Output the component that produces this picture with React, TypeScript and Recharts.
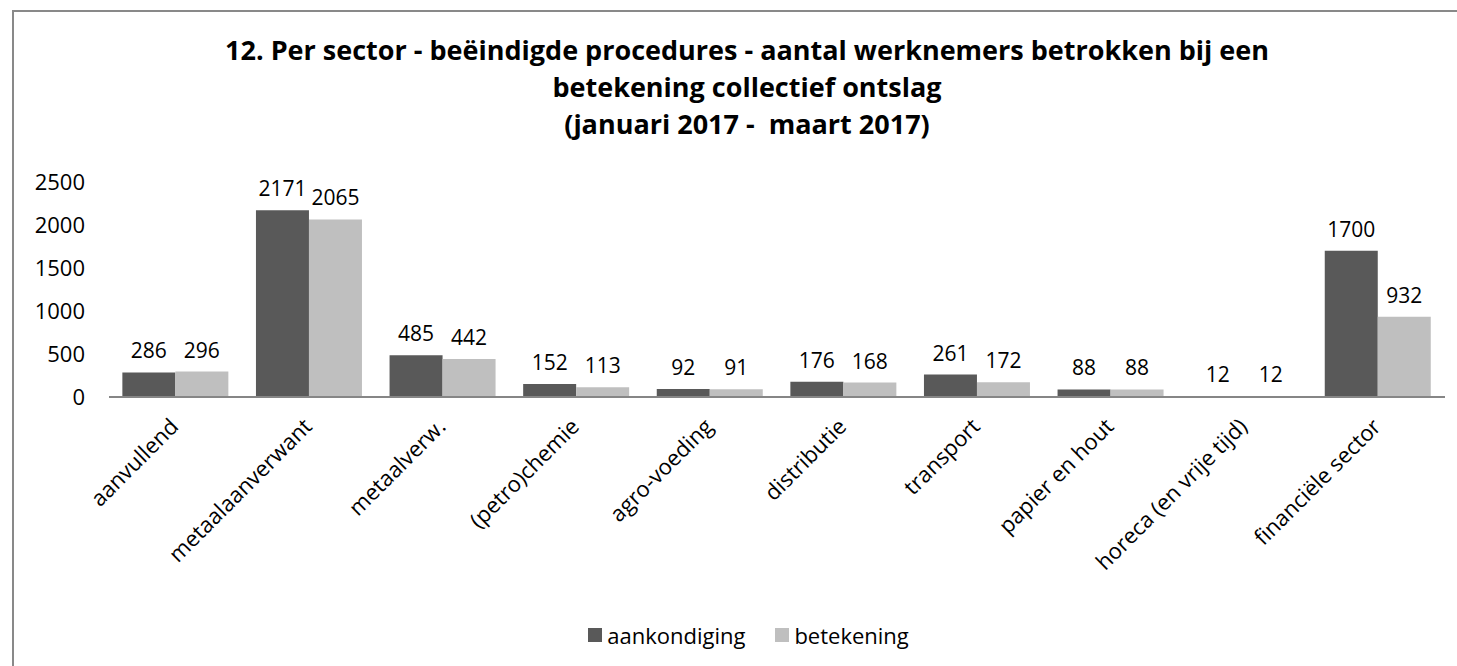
import { BarChart, Bar, XAxis, YAxis, Legend, LabelList } from 'recharts';

const sectors = [
  'aanvullend',
  'metaalaanverwant',
  'metaalverw.',
  '(petro)chemie',
  'agro-voeding',
  'distributie',
  'transport',
  'papier en hout',
  'horeca (en vrije tijd)',
  'financiële sector',
];
const aankondiging = [286, 2171, 485, 152, 92, 176, 261, 88, 12, 1700];
const betekening = [296, 2065, 442, 113, 91, 168, 172, 88, 12, 932];
const yTicks = [0, 500, 1000, 1500, 2000, 2500];

const titleLines = [
  '12. Per sector - beëindigde procedures - aantal werknemers betrokken bij een',
  'betekening collectief ontslag',
  '(januari 2017 -  maart 2017)',
];

const series = [
  { key: 'aankondiging', name: 'aankondiging', color: '#595959' },
  { key: 'betekening', name: 'betekening', color: '#bfbfbf' },
];

const data = sectors.map((name, i) => ({
  name,
  aankondiging: aankondiging[i],
  betekening: betekening[i],
}));

const FONT = '"Open Sans", sans-serif';

function SectorTick({ x, y, payload }: any) {
  const tx = x + 4;
  const ty = y + 23;
  return (
    <text
      x={tx}
      y={ty}
      textAnchor="end"
      fontSize={22}
      fill="#000"
      transform={`rotate(-45, ${tx}, ${ty})`}
    >
      {payload.value}
    </text>
  );
}

function LegendContent() {
  return (
    <div style={{ display: 'flex', justifyContent: 'center', gap: 30, fontSize: 22, lineHeight: '30px', color: '#000' }}>
      {series.map((s) => (
        <span key={s.key} style={{ display: 'flex', alignItems: 'center' }}>
          <span style={{ width: 14, height: 14, background: s.color, marginRight: 5, display: 'inline-block' }} />
          {s.name}
        </span>
      ))}
    </div>
  );
}

export default function App() {
  return (
    <div
      style={{
        position: 'absolute',
        left: 0,
        top: 0,
        width: 1457,
        height: 666,
        overflow: 'hidden',
        background: '#fff',
        fontFamily: FONT,
      }}
    >
      <div
        style={{
          position: 'absolute',
          left: 12,
          top: 10,
          width: 1445,
          height: 656,
          boxSizing: 'border-box',
          borderLeft: '2px solid #898989',
          borderTop: '2px solid #898989',
        }}
      />
      <div
        style={{
          position: 'absolute',
          left: 147,
          top: 31,
          width: 1200,
          textAlign: 'center',
          fontSize: 27,
          fontWeight: 700,
          lineHeight: '37px',
          color: '#000',
          whiteSpace: 'pre',
        }}
      >
        {titleLines.map((l) => (
          <div key={l}>{l}</div>
        ))}
      </div>
      <BarChart
        width={1457}
        height={666}
        data={data}
        margin={{ top: 182, right: 12, left: 0, bottom: 0 }}
        barCategoryGap="10%"
        barGap={0}
      >
        <XAxis
          dataKey="name"
          height={269}
          interval={0}
          tickLine={false}
          axisLine={{ stroke: '#868686', strokeWidth: 2 }}
          tick={<SectorTick />}
        />
        <YAxis
          width={109}
          domain={[0, 2500]}
          ticks={yTicks}
          axisLine={false}
          tickLine={false}
          tickMargin={18}
          tick={{ fill: '#000', fontSize: 22 }}
        />
        <Legend
          layout="horizontal"
          verticalAlign="middle"
          align="center"
          content={<LegendContent />}
          wrapperStyle={{ top: 620, left: 20, width: 1457 }}
        />
        {series.map((s) => (
          <Bar key={s.key} dataKey={s.key} name={s.name} fill={s.color} isAnimationActive={false}>
            <LabelList dataKey={s.key} position="top" offset={14} fill="#000" fontSize={21} />
          </Bar>
        ))}
      </BarChart>
    </div>
  );
}
